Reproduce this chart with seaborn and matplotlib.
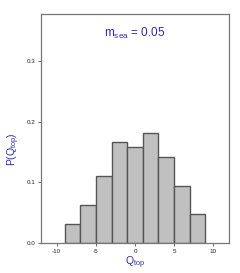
import matplotlib
matplotlib.use("Agg")
import matplotlib.pyplot as plt
import pandas as pd
import seaborn as sns

# bin centres of Q_top and probability per bin
q_centers = [-8, -6, -4, -2, 0, 2, 4, 6, 8]
p_values = [0.031, 0.063, 0.111, 0.166, 0.158, 0.182, 0.142, 0.094, 0.047]
x_ticks = [-10, -5, 0, 5, 10]
y_ticks = [0.0, 0.1, 0.2, 0.3]
label_color = "#2b2ba8"

df = pd.DataFrame({"q": q_centers, "p": p_values})

sns.set_style("white")
plt.rcParams["font.family"] = ["Liberation Sans", "DejaVu Sans"]

fig = plt.figure(figsize=(2.4, 2.73), dpi=100)
ax = fig.add_axes([0.171, 0.110, 0.783, 0.839])

sns.histplot(
    data=df,
    x="q",
    weights="p",
    binwidth=2,
    binrange=(-9, 9),
    color="#c0c0c0",
    edgecolor="#555555",
    linewidth=1.0,
    alpha=1.0,
    ax=ax,
)

ax.set_xlim(-12, 12)
ax.set_ylim(0, 0.378)
ax.set_xticks(x_ticks)
ax.set_xticklabels([str(t) for t in x_ticks])
ax.set_yticks(y_ticks)
ax.set_yticklabels([f"{t:.1f}" for t in y_ticks])
ax.tick_params(axis="both", labelsize=4.5, length=2, width=0.6,
               color="#555555", labelcolor="#222222", pad=2, direction="out")
ax.tick_params(axis="both", which="both", bottom=True, left=True)

for spine in ax.spines.values():
    spine.set_color("#777777")
    spine.set_linewidth(0.9)

ax.set_xlabel(r"Q$_{\mathregular{top}}$", color=label_color, fontsize=7.5, labelpad=1)
ax.set_ylabel(r"P(Q$_{\mathregular{top}}$)", color=label_color, fontsize=7.5)
ax.yaxis.set_label_coords(-0.10, 0.41)
ax.text(0, 0.345, r"m$_{\mathregular{sea}}$ = 0.05", color=label_color,
        fontsize=8.5, ha="center", va="center")

fig.savefig("out.png", dpi=100)
